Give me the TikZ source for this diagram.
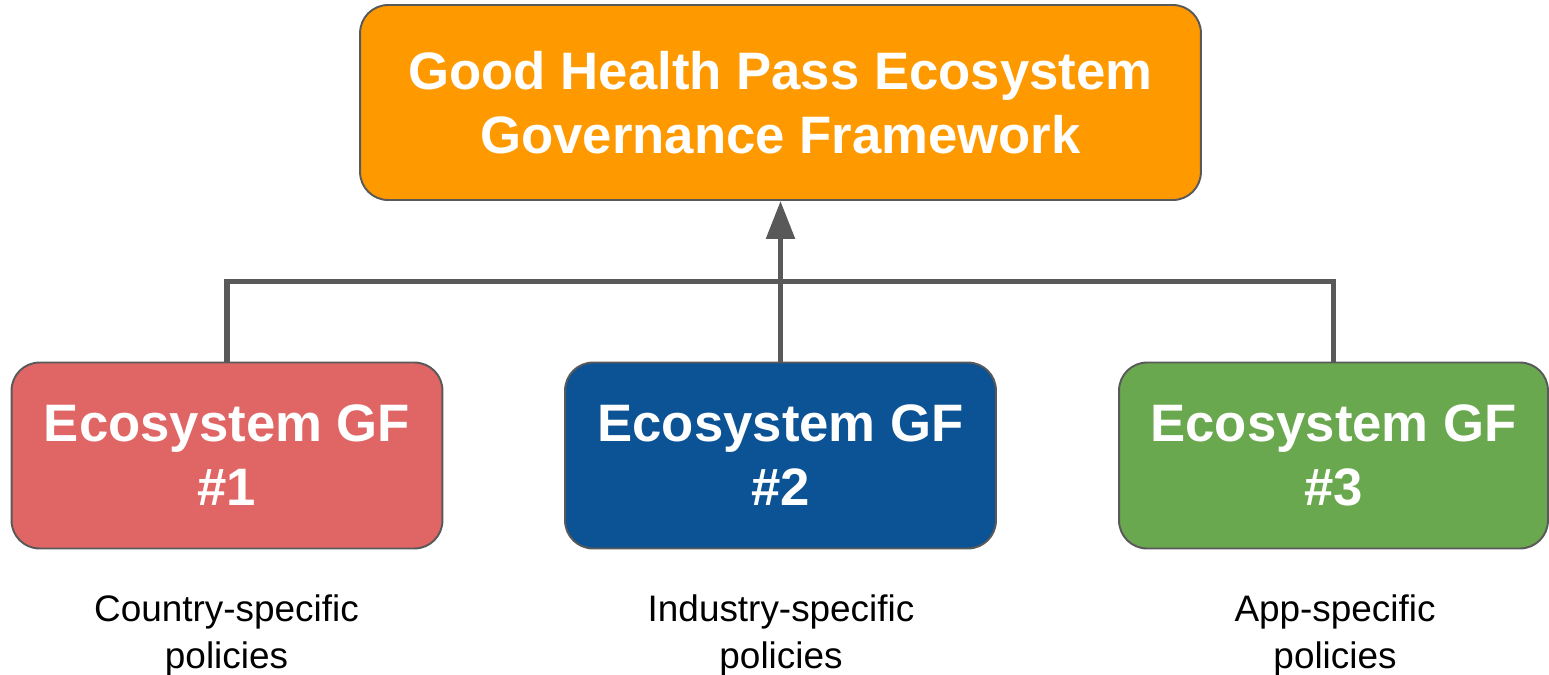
\documentclass[tikz,border=0pt]{standalone}
\usepackage{fontspec}
\setmainfont{Liberation Sans}
\usepackage{tikz}
\usetikzlibrary{arrows.meta}
\definecolor{ghpOrange}{HTML}{FF9900}
\definecolor{ghpRed}{HTML}{E06666}
\definecolor{ghpBlue}{HTML}{0B5394}
\definecolor{ghpGreen}{HTML}{6AA84F}
\definecolor{ghpGrey}{HTML}{595959}
\tikzset{
    gfbox/.style={draw=ghpGrey, line width=1.1pt, rounded corners=0.56cm,
        text=white, align=center, inner sep=0pt,
        font=\bfseries\fontsize{30}{36.5}\selectfont},
    policy/.style={align=center, font=\fontsize{21}{26.6}\selectfont},
    link/.style={draw=ghpGrey, line width=3.2pt}
}

\begin{document}
\begin{tikzpicture}[x=0.02cm, y=-0.02cm]
        \useasboundingbox (0, 0) rectangle (1549, 674);
        \node[gfbox, fill=ghpOrange, minimum width=16.82cm, minimum height=3.9cm] (top) at (780.5, 102.5) {Good Health Pass Ecosystem\\Governance Framework};
        \node[gfbox, fill=ghpRed, minimum width=8.62cm, minimum height=3.72cm] (gf1) at (227, 455.5) {Ecosystem GF\\\#1};
        \node[gfbox, fill=ghpBlue, minimum width=8.62cm, minimum height=3.72cm] (gf2) at (780.5, 455.5) {Ecosystem GF\\\#2};
        \node[gfbox, fill=ghpGreen, minimum width=8.58cm, minimum height=3.72cm] (gf3) at (1333.5, 455.5) {Ecosystem GF\\\#3};
        % policies
        \node[policy] (p1) at (226.5, 635.5) {Country-specific\\policies};
        \node[policy] (p2) at (781, 635.5) {Industry-specific\\policies};
        \node[policy] (p3) at (1335, 635.5) {App-specific\\policies};
        \coordinate (bar) at (780.5, 281.5);
        \draw[link] (gf1.north) |- (bar) -| (gf3.north);
        \draw[link, -{Triangle[length=0.76cm, width=0.56cm]}] (gf2.north) -- (top.south);
    \end{tikzpicture}
\end{document}
